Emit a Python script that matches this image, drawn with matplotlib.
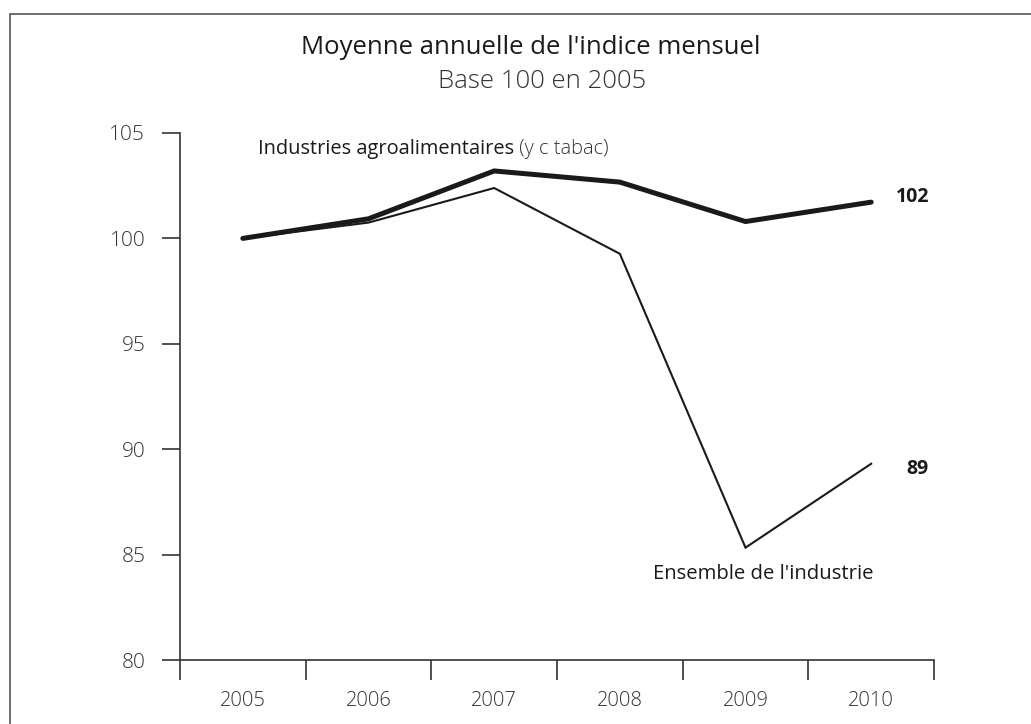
import matplotlib
matplotlib.use('Agg')
import matplotlib.pyplot as plt
from matplotlib.patches import Rectangle

# données
annees = ['2005', '2006', '2007', '2008', '2009', '2010']
agro = [100.0, 100.93, 103.2, 102.67, 100.8, 101.72]
ensemble = [100.0, 100.75, 102.39, 99.27, 85.33, 89.31]
yticks = [80, 85, 90, 95, 100, 105]

plt.rcParams['font.family'] = ['Open Sans', 'DejaVu Sans']
noir = '#1a1a1a'
gris = '#333333'

fig = plt.figure(figsize=(10.31, 7.24), dpi=100)
fig.patches.append(Rectangle((9.5 / 1031, -0.1), 1.2, 1.1 - 13.5 / 724, transform=fig.transFigure,
                             fill=False, edgecolor='#555555', linewidth=1.2))

ax = fig.add_axes([180 / 1031, 64 / 724, 754 / 1031, 527 / 724])
x = range(len(annees))
ax.plot(x, agro, color=noir, linewidth=3.6, solid_capstyle='round', solid_joinstyle='miter', zorder=3)
ax.plot(x, ensemble, color=noir, linewidth=1.5, solid_joinstyle='miter', zorder=2)

ax.set_xlim(-0.5, len(annees) - 0.5)
ax.set_ylim(80, 105)
for s in ['top', 'right']:
    ax.spines[s].set_visible(False)
for s in ['left', 'bottom']:
    ax.spines[s].set_color(gris)
    ax.spines[s].set_linewidth(1.2)

ax.set_yticks(yticks)
ax.set_yticklabels([str(v) for v in yticks], fontweight='light')
ax.tick_params(axis='y', direction='out', length=13, width=1.2, color=gris, pad=12,
               labelsize=15, labelcolor=gris)

# graduations entre les années, libellés au centre
ax.set_xticks([i - 0.5 for i in range(len(annees) + 1)])
ax.set_xticklabels([])
ax.set_xticks(list(x), minor=True)
ax.set_xticklabels(annees, minor=True, fontweight='light')
ax.tick_params(axis='x', which='major', direction='out', length=14.4, width=1.2, color=gris)
ax.tick_params(axis='x', which='minor', length=0, pad=22, labelsize=14.5, labelcolor=gris)

t1 = ax.text(0.12, 104.26, 'Industries agroalimentaires', fontsize=14.4, fontweight='medium',
             color=noir, ha='left', va='center')
ax.annotate(' (y c tabac)', xy=(1, 0), xycoords=t1, ha='left', va='bottom',
            fontsize=14.4, fontweight='light', color=gris)
ax.text(5.46, 101.98, '102', fontsize=14, fontweight='bold', color=noir, ha='right', va='center')
ax.text(5.46, 89.07, '89', fontsize=14, fontweight='bold', color=noir, ha='right', va='center')
ax.text(3.26, 84.08, "Ensemble de l'industrie", fontsize=14.6, color=noir, ha='left', va='center')

fig.text(531 / 1031, 1 - 47 / 724, "Moyenne annuelle de l'indice mensuel", fontsize=18.5,
         fontweight='medium', color=noir, ha='center', va='center')
fig.text(542 / 1031, 1 - 82 / 724, 'Base 100 en 2005', fontsize=18.5, fontweight='light',
         color=gris, ha='center', va='center')

fig.savefig('out.png', dpi=100)
